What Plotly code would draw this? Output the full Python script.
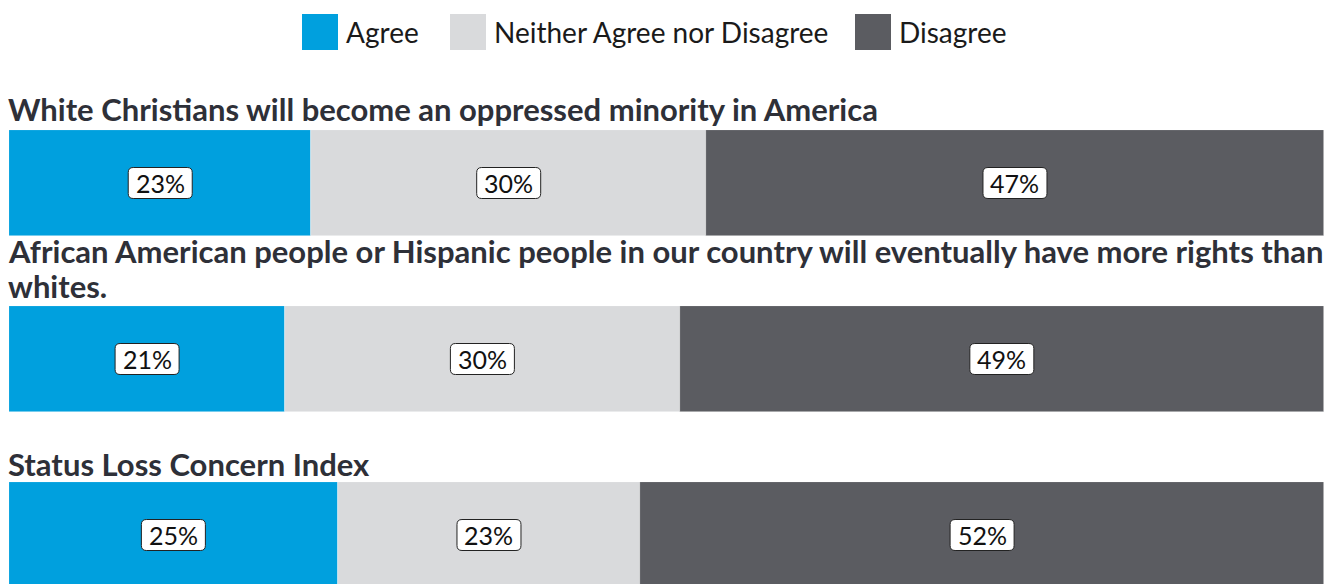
import plotly.graph_objects as go

# ---- data ----
questions = [
    "White Christians will become an oppressed minority in America",
    "African American people or Hispanic people in our country will eventually have more rights than<br>whites.",
    "Status Loss Concern Index",
]
series_names = ["Agree", "Neither Agree nor Disagree", "Disagree"]
agree = [23, 21, 25]
neither = [30, 30, 23]
disagree = [47, 49, 52]

# ---- style ----
colors = ["#00A0DE", "#D9DADC", "#5B5C61"]
title_color = "#2E3038"
FONT = "Lato"
W, H = 1333, 584
X_LEFT, X_RIGHT = 9, 1324          # plot area, px
bar_bands = [(130, 236), (306, 412), (482, 588)]   # bar top/bottom, px
title_centers = [109, 251, 464]                     # first title line vertical centers, px
TITLE_LINE = 35                                     # title line spacing, px
TITLE_SIZE = 31
legend_squares = [302, 450, 855]                    # legend square left edges, px
LEG_SQ = 36
LEG_TOP = 14

values = [agree, neither, disagree]

fig = go.Figure()
layout_axes = {}
shapes = []
annotations = []

for i, q in enumerate(questions):
    top, bot = bar_bands[i]
    d0 = max(0.0, 1 - bot / H)
    d1 = min(1.0, 1 - top / H)
    band = bot - top
    lo = -0.5 + max(0, bot - H) / band
    yname = "y" if i == 0 else f"y{i + 1}"
    akey = "yaxis" if i == 0 else f"yaxis{i + 1}"
    layout_axes[akey] = dict(domain=[d0, d1], range=[lo, 0.5], visible=False,
                             fixedrange=True, anchor="x")

    base = 0
    for s, name in enumerate(series_names):
        v = values[s][i]
        fig.add_trace(go.Bar(
            x=[v], base=[base], y=[0], width=[1], orientation="h",
            yaxis=yname, name=name, showlegend=False,
            marker=dict(color=colors[s], line=dict(width=0.6, color="rgba(255,255,255,0.6)")),
            hoverinfo="skip",
        ))
        cx = base + v / 2
        # rounded white label box
        w2, h2, r = 32, 15.5, 5
        path = (f"M {-w2 + r},{-h2} L {w2 - r},{-h2} Q {w2},{-h2} {w2},{-h2 + r} "
                f"L {w2},{h2 - r} Q {w2},{h2} {w2 - r},{h2} L {-w2 + r},{h2} "
                f"Q {-w2},{h2} {-w2},{h2 - r} L {-w2},{-h2 + r} Q {-w2},{-h2} {-w2 + r},{-h2} Z")
        shapes.append(dict(type="path", path=path, xref="x", yref=yname,
                           xsizemode="pixel", ysizemode="pixel",
                           xanchor=cx, yanchor=0, layer="above",
                           fillcolor="white", line=dict(color="#222222", width=1)))
        annotations.append(dict(x=cx, y=0, xref="x", yref=yname, text=f"{v}%",
                                showarrow=False, font=dict(family=FONT, size=25, color="#111111")))
        base += v

    # question title, one annotation per line for tight line spacing
    for k, line in enumerate(q.split("<br>")):
        yc = title_centers[i] + k * TITLE_LINE
        annotations.append(dict(x=(X_LEFT - 3) / W, y=1 - yc / H, xref="paper", yref="paper",
                                xanchor="left", yanchor="middle", align="left", text=line,
                                showarrow=False,
                                font=dict(family=FONT, size=TITLE_SIZE, color=title_color,
                                          weight="bold")))

# legend
for s, name in enumerate(series_names):
    x0 = legend_squares[s]
    shapes.append(dict(type="rect", xref="paper", yref="paper",
                       x0=x0 / W, x1=(x0 + LEG_SQ) / W,
                       y0=1 - (LEG_TOP + LEG_SQ) / H, y1=1 - LEG_TOP / H,
                       fillcolor=colors[s], line=dict(width=0)))
    annotations.append(dict(x=(x0 + LEG_SQ + 6) / W, y=1 - (LEG_TOP + LEG_SQ / 2) / H,
                            xref="paper", yref="paper", xanchor="left", yanchor="middle",
                            text=name, showarrow=False,
                            font=dict(family=FONT, size=28, color="#1A1A1A")))

fig.update_layout(
    width=W, height=H,
    margin=dict(l=0, r=0, t=0, b=0),
    paper_bgcolor="white", plot_bgcolor="white",
    barmode="overlay", bargap=0,
    xaxis=dict(domain=[X_LEFT / W, X_RIGHT / W], range=[0, 100], visible=False, fixedrange=True),
    shapes=shapes, annotations=annotations,
    showlegend=False,
    **layout_axes,
)

fig.write_html("out.html")
